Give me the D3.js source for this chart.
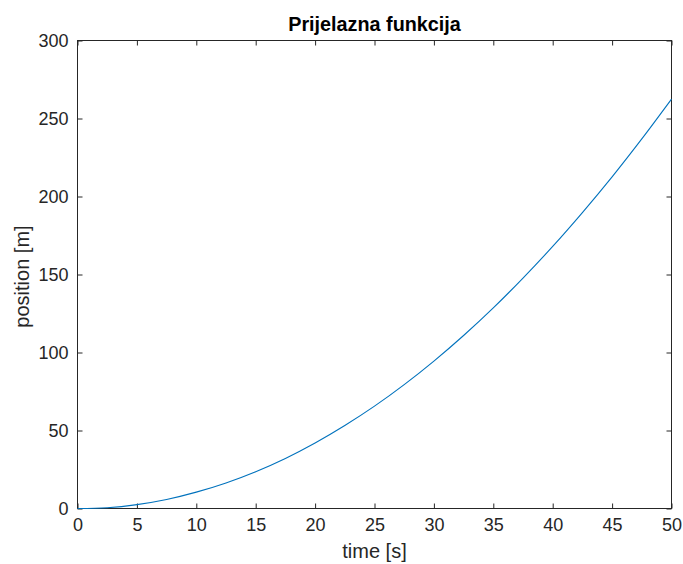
<!DOCTYPE html>
<html>
<head>
<meta charset="utf-8">
<script src="https://cdn.jsdelivr.net/npm/d3@7/dist/d3.min.js"></script>
<style>
  html, body { margin: 0; padding: 0; background: #fff; }
  text { font-family: "Liberation Sans", Arial, Helvetica, sans-serif; fill: #262626; }
</style>
</head>
<body>
<svg id="chart" width="683" height="564"></svg>
<script>
const timeValues = [0, 2.5, 5, 7.5, 10, 12.5, 15, 17.5, 20, 22.5, 25, 27.5, 30, 32.5, 35, 37.5, 40, 42.5, 45, 47.5, 50];
const positionValues = [0, 0.5, 2.5, 5.8, 10.5, 16.4, 23.6, 32.1, 42, 53.2, 65.6, 79.4, 94.5, 110.9, 128.6, 147.7, 168, 189.7, 212.6, 236.9, 262.4];
const xTicks = [0, 5, 10, 15, 20, 25, 30, 35, 40, 45, 50];
const yTicks = [0, 50, 100, 150, 200, 250, 300];
const titleText = "Prijelazna funkcija";
const xLabelText = "time [s]";
const yLabelText = "position [m]";

(function () {
const svg = d3.select("#chart");
const mLeft = 77.5, mRight = 671.5, mTop = 40.5, mBottom = 508.5;
const x = d3.scaleLinear().domain([0, 50]).range([mLeft, mRight]);
const y = d3.scaleLinear().domain([0, 300]).range([mBottom, mTop]);
const axisColor = "#262626";
const tickLen = 5;
const fontFam = '"Liberation Sans", Arial, sans-serif';

svg.append("rect").attr("x", mLeft).attr("y", mTop)
  .attr("width", mRight - mLeft).attr("height", mBottom - mTop)
  .attr("fill", "#fff").attr("stroke", axisColor).attr("stroke-width", 1);

const gx = svg.append("g").attr("transform", `translate(0,${mBottom})`)
  .call(d3.axisBottom(x).tickValues(xTicks).tickSizeInner(-tickLen).tickSizeOuter(0).tickPadding(10).tickFormat(d3.format("d")));
gx.select(".domain").remove();
gx.selectAll("line").attr("stroke", axisColor);
gx.selectAll("text").attr("font-size", 18).attr("fill", axisColor).style("font-family", fontFam);

const gxt = svg.append("g").attr("transform", `translate(0,${mTop})`)
  .call(d3.axisTop(x).tickValues(xTicks).tickSizeInner(-tickLen).tickSizeOuter(0).tickFormat(""));
gxt.select(".domain").remove();
gxt.selectAll("line").attr("stroke", axisColor);

const gy = svg.append("g").attr("transform", `translate(${mLeft},0)`)
  .call(d3.axisLeft(y).tickValues(yTicks).tickSizeInner(-tickLen).tickSizeOuter(0).tickPadding(9).tickFormat(d3.format("d")));
gy.select(".domain").remove();
gy.selectAll("line").attr("stroke", axisColor);
gy.selectAll("text").attr("font-size", 18).attr("fill", axisColor).style("font-family", fontFam);

const gyr = svg.append("g").attr("transform", `translate(${mRight},0)`)
  .call(d3.axisRight(y).tickValues(yTicks).tickSizeInner(-tickLen).tickSizeOuter(0).tickFormat(""));
gyr.select(".domain").remove();
gyr.selectAll("line").attr("stroke", axisColor);

const data = timeValues.map((t, i) => ({ t, p: positionValues[i] }));
svg.append("path").datum(data)
  .attr("fill", "none").attr("stroke", "#0072BD").attr("stroke-width", 1.1)
  .attr("d", d3.line().x(d => x(d.t)).y(d => y(d.p)).curve(d3.curveCatmullRom));

svg.append("text").attr("x", (mLeft + mRight) / 2).attr("y", 31)
  .attr("text-anchor", "middle").attr("font-size", 19.8).attr("font-weight", "bold")
  .style("fill", "#000")
  .text(titleText);

svg.append("text").attr("x", (mLeft + mRight) / 2).attr("y", 558)
  .attr("text-anchor", "middle").attr("font-size", 20)
  .text(xLabelText);

svg.append("text").attr("transform", `translate(29,${(mTop + mBottom) / 2 + 2}) rotate(-90)`)
  .attr("text-anchor", "middle").attr("font-size", 20)
  .text(yLabelText);
})();
</script>
</body>
</html>
